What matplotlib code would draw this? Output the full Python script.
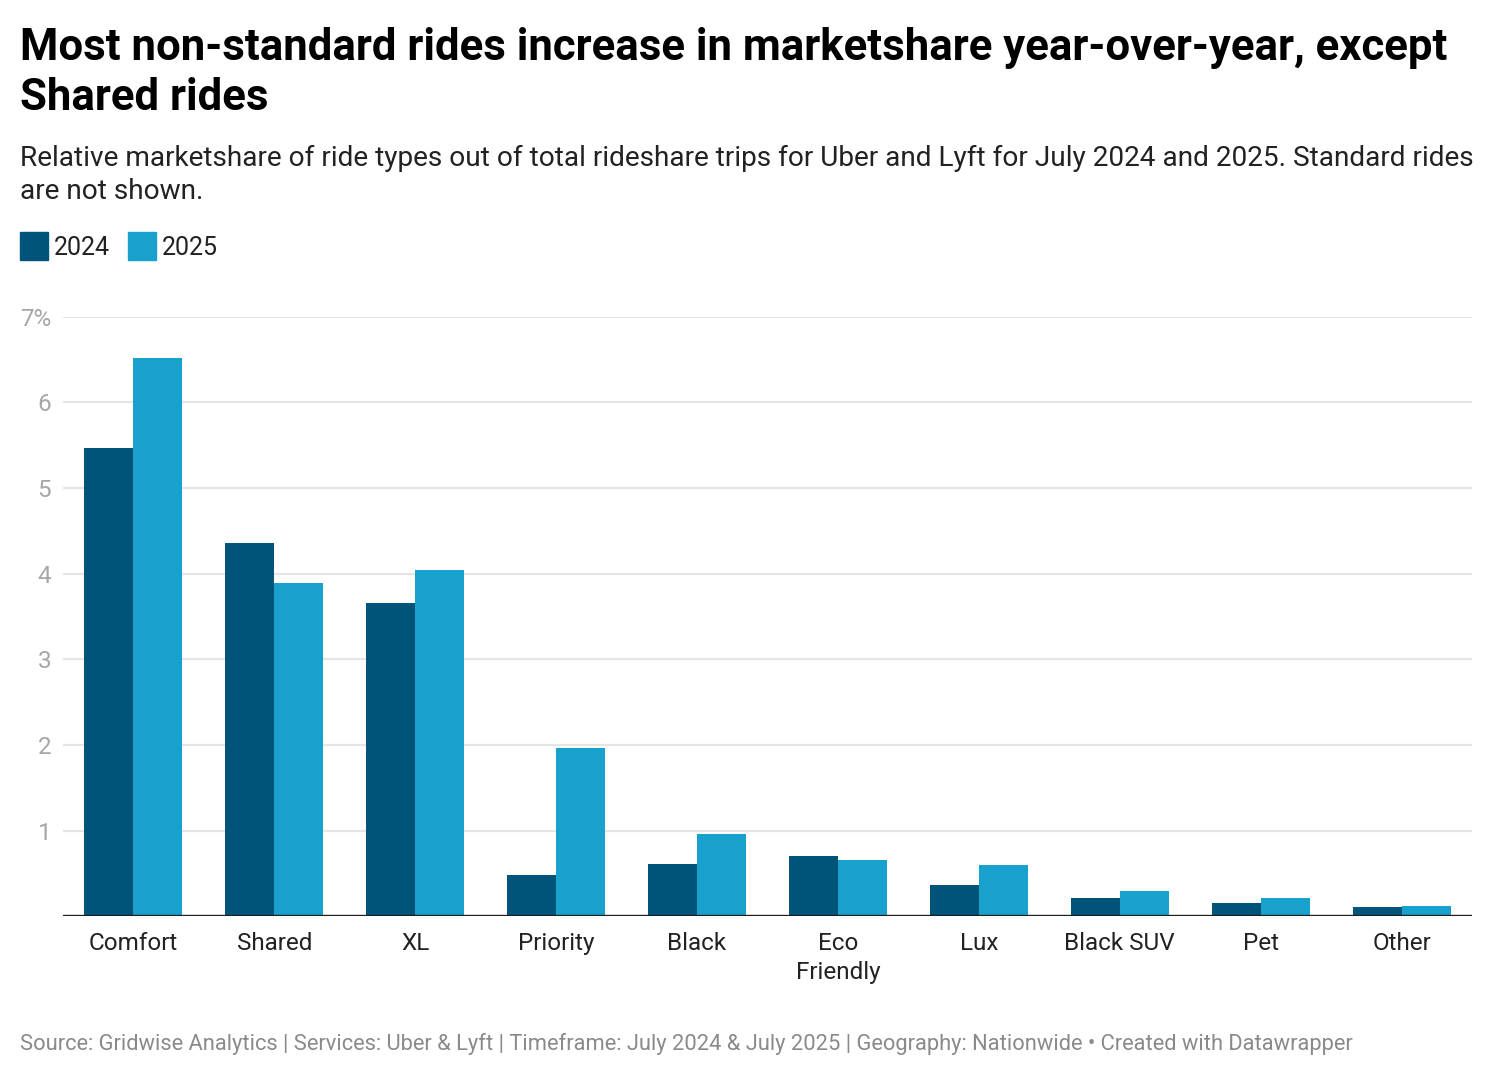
import matplotlib
matplotlib.use("Agg")
import matplotlib.pyplot as plt
import numpy as np
from matplotlib.patches import Rectangle

# Data
categories = ["Comfort", "Shared", "XL", "Priority", "Black", "Eco\nFriendly",
              "Lux", "Black SUV", "Pet", "Other"]
share_2024 = [5.47, 4.36, 3.66, 0.48, 0.61, 0.70, 0.36, 0.21, 0.15, 0.105]
share_2025 = [6.52, 3.89, 4.04, 1.96, 0.96, 0.66, 0.60, 0.29, 0.21, 0.12]
y_ticks = [1, 2, 3, 4, 5, 6, 7]
y_tick_labels = ["1", "2", "3", "4", "5", "6", "7%"]

COLOR_2024 = "#00547a"
COLOR_2025 = "#19a1ce"

W, H = 1492, 1076
plt.rcParams["font.family"] = ["Roboto", "DejaVu Sans"]

fig = plt.figure(figsize=(W / 100, H / 100), dpi=100)


def fx(px):
    return px / W


def fy(py):
    return 1 - py / H


# Axes placement (pixel coords from the reference)
ax_left, ax_right, ax_top, ax_bottom = 63, 1472, 316.7, 916.2
ax = fig.add_axes([fx(ax_left), fy(ax_bottom), fx(ax_right - ax_left),
                   (ax_bottom - ax_top) / H])

x = np.arange(len(categories))
bar_w = 0.348
ax.bar(x - bar_w / 2, share_2024, width=bar_w, color=COLOR_2024, zorder=3)
ax.bar(x + bar_w / 2, share_2025, width=bar_w, color=COLOR_2025, zorder=3)

ax.set_xlim(-0.5, len(categories) - 0.5)
ax.set_ylim(0, 7)

for t in y_ticks:
    ax.axhline(t, color="#e5e5e5", linewidth=1.6, zorder=1)
ax.axhline(0, color="#1d1d1d", linewidth=2.4, zorder=4)

ax.set_yticks(y_ticks)
ax.set_yticklabels(y_tick_labels, fontsize=17.5, color="#a6a6a6")
ax.set_xticks(x)
ax.set_xticklabels(categories, fontsize=17.5, color="#222222", linespacing=1.3)
ax.tick_params(axis="y", length=0, pad=8.5)
ax.tick_params(axis="x", length=0, pad=11.5)
for s in ax.spines.values():
    s.set_visible(False)

# Title and subtitle
fig.text(fx(20), fy(60), "Most non-standard rides increase in marketshare year-over-year, except",
         fontsize=31.5, fontweight="bold", color="#000000", va="baseline")
fig.text(fx(20), fy(110), "Shared rides",
         fontsize=31.5, fontweight="bold", color="#000000", va="baseline")
fig.text(fx(20), fy(166), "Relative marketshare of ride types out of total rideshare trips for Uber and Lyft for July 2024 and 2025. Standard rides",
         fontsize=20.15, color="#222222", va="baseline")
fig.text(fx(20), fy(199), "are not shown.",
         fontsize=20.15, color="#222222", va="baseline")

# Legend
for sx, tx, col, lab in [(20, 54, COLOR_2024, "2024"), (128, 162, COLOR_2025, "2025")]:
    fig.patches.append(Rectangle((fx(sx), fy(260)), fx(28), 28 / H,
                                 transform=fig.transFigure, color=col))
    fig.text(fx(tx), fy(255), lab, fontsize=18, color="#222222", va="baseline")

# Footer
fig.text(fx(20), fy(1050),
         "Source: Gridwise Analytics | Services: Uber & Lyft | Timeframe: July 2024 & July 2025 | Geography: Nationwide \u2022 Created with Datawrapper",
         fontsize=15.75, color="#8a8a8a", va="baseline")

fig.savefig("out.png", dpi=100, facecolor="white")
